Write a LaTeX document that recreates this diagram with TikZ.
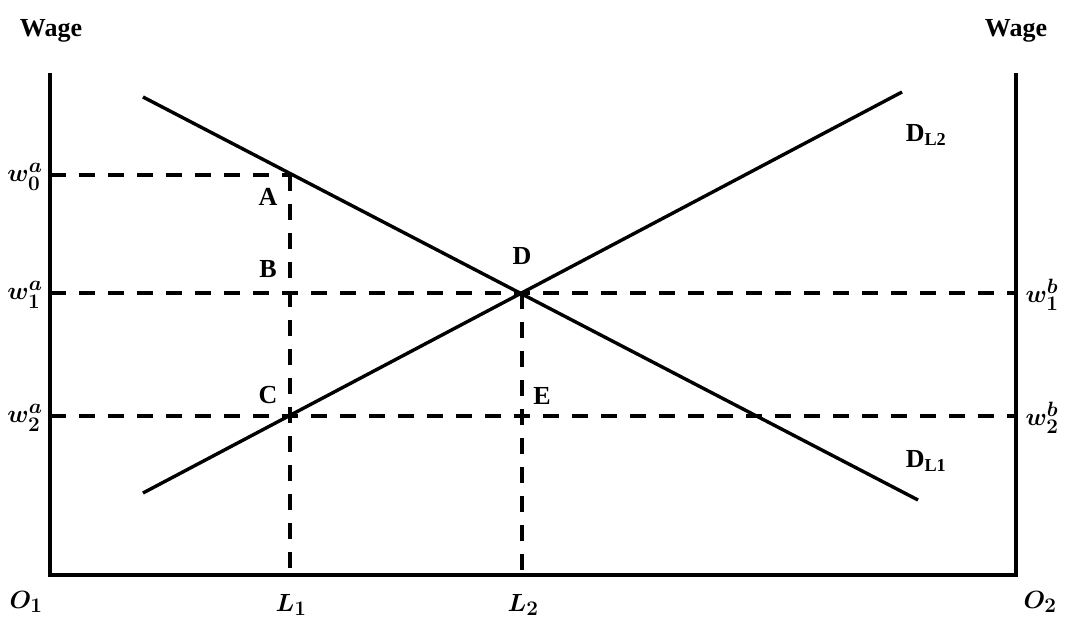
\documentclass[tikz,border=0pt]{standalone}
\usepackage{amsmath,bm}
\usepackage{fontspec}
\setmainfont{Liberation Serif}
\begin{document}
\begin{tikzpicture}[x=1pt,y=-1pt,
  axis/.style={line width=3.6pt},
  curve/.style={line width=3.4pt},
  guide/.style={line width=3.4pt,dash pattern=on 16pt off 13pt},
  lbl/.style={font=\fontsize{26}{30}\selectfont\bfseries,inner sep=0pt},
  mlbl/.style={font=\fontsize{29}{34}\selectfont,inner sep=0pt}]
\useasboundingbox (0,0) rectangle (1065,617);
% axes corners
\coordinate (LT) at (50,73);
\coordinate (LB) at (50,575);
\coordinate (RB) at (1016,575);
\coordinate (RT) at (1016,73);
% guide points
\coordinate (W0L) at (50,175);
\coordinate (A) at (290,175);
\coordinate (W1L) at (50,293);
\coordinate (W1R) at (1016,293);
\coordinate (W2L) at (50,416);
\coordinate (W2R) at (1016,416);
\coordinate (L1) at (290,575);
\coordinate (D) at (522,293);
\coordinate (L2) at (522,575);
% demand curve ends
\coordinate (D1s) at (143,97);
\coordinate (D1e) at (918,500);
\coordinate (D2s) at (143,493);
\coordinate (D2e) at (902,92);
% guides
\draw[guide] (W0L) -- (A);
\draw[guide] (W1L) -- (W1R);
\draw[guide] (W2L) -- (W2R);
\draw[guide] (A) -- (L1);
\draw[guide] (D) -- (L2);
% axes
\draw[axis] (LT) -- (LB) -- (RB) -- (RT);
% curves
\draw[curve] (D1s) -- (D1e);
\draw[curve] (D2s) -- (D2e);
% labels
\node[lbl] (wageL) at (51,31) {Wage};
\node[lbl] (wageR) at (1016,31) {Wage};
\node[mlbl] (w0a) at (25,177) {$\bm{w_0^a}$};
\node[mlbl] (w1a) at (25,295) {$\bm{w_1^a}$};
\node[mlbl] (w2a) at (25,418) {$\bm{w_2^a}$};
\node[mlbl] (w1b) at (1042,295) {$\bm{w_1^b}$};
\node[mlbl] (w2b) at (1042,418) {$\bm{w_2^b}$};
\node[lbl] (lA) at (268,197) {A};
\node[lbl] (lB) at (268,269) {B};
\node[lbl] (lC) at (268,395) {C};
\node[lbl] (lD) at (522,256) {D};
\node[lbl] (lE) at (542,396) {E};
\node[lbl] (dl2) at (926,135) {D\textsubscript{L2}};
\node[lbl] (dl1) at (926,461) {D\textsubscript{L1}};
\node[mlbl] (o1) at (26,602) {$\bm{O_1}$};
\node[mlbl] (o2) at (1040,602) {$\bm{O_2}$};
\node[mlbl] (l1) at (291,605) {$\bm{L_1}$};
\node[mlbl] (l2) at (523,605) {$\bm{L_2}$};
\end{tikzpicture}
\end{document}
